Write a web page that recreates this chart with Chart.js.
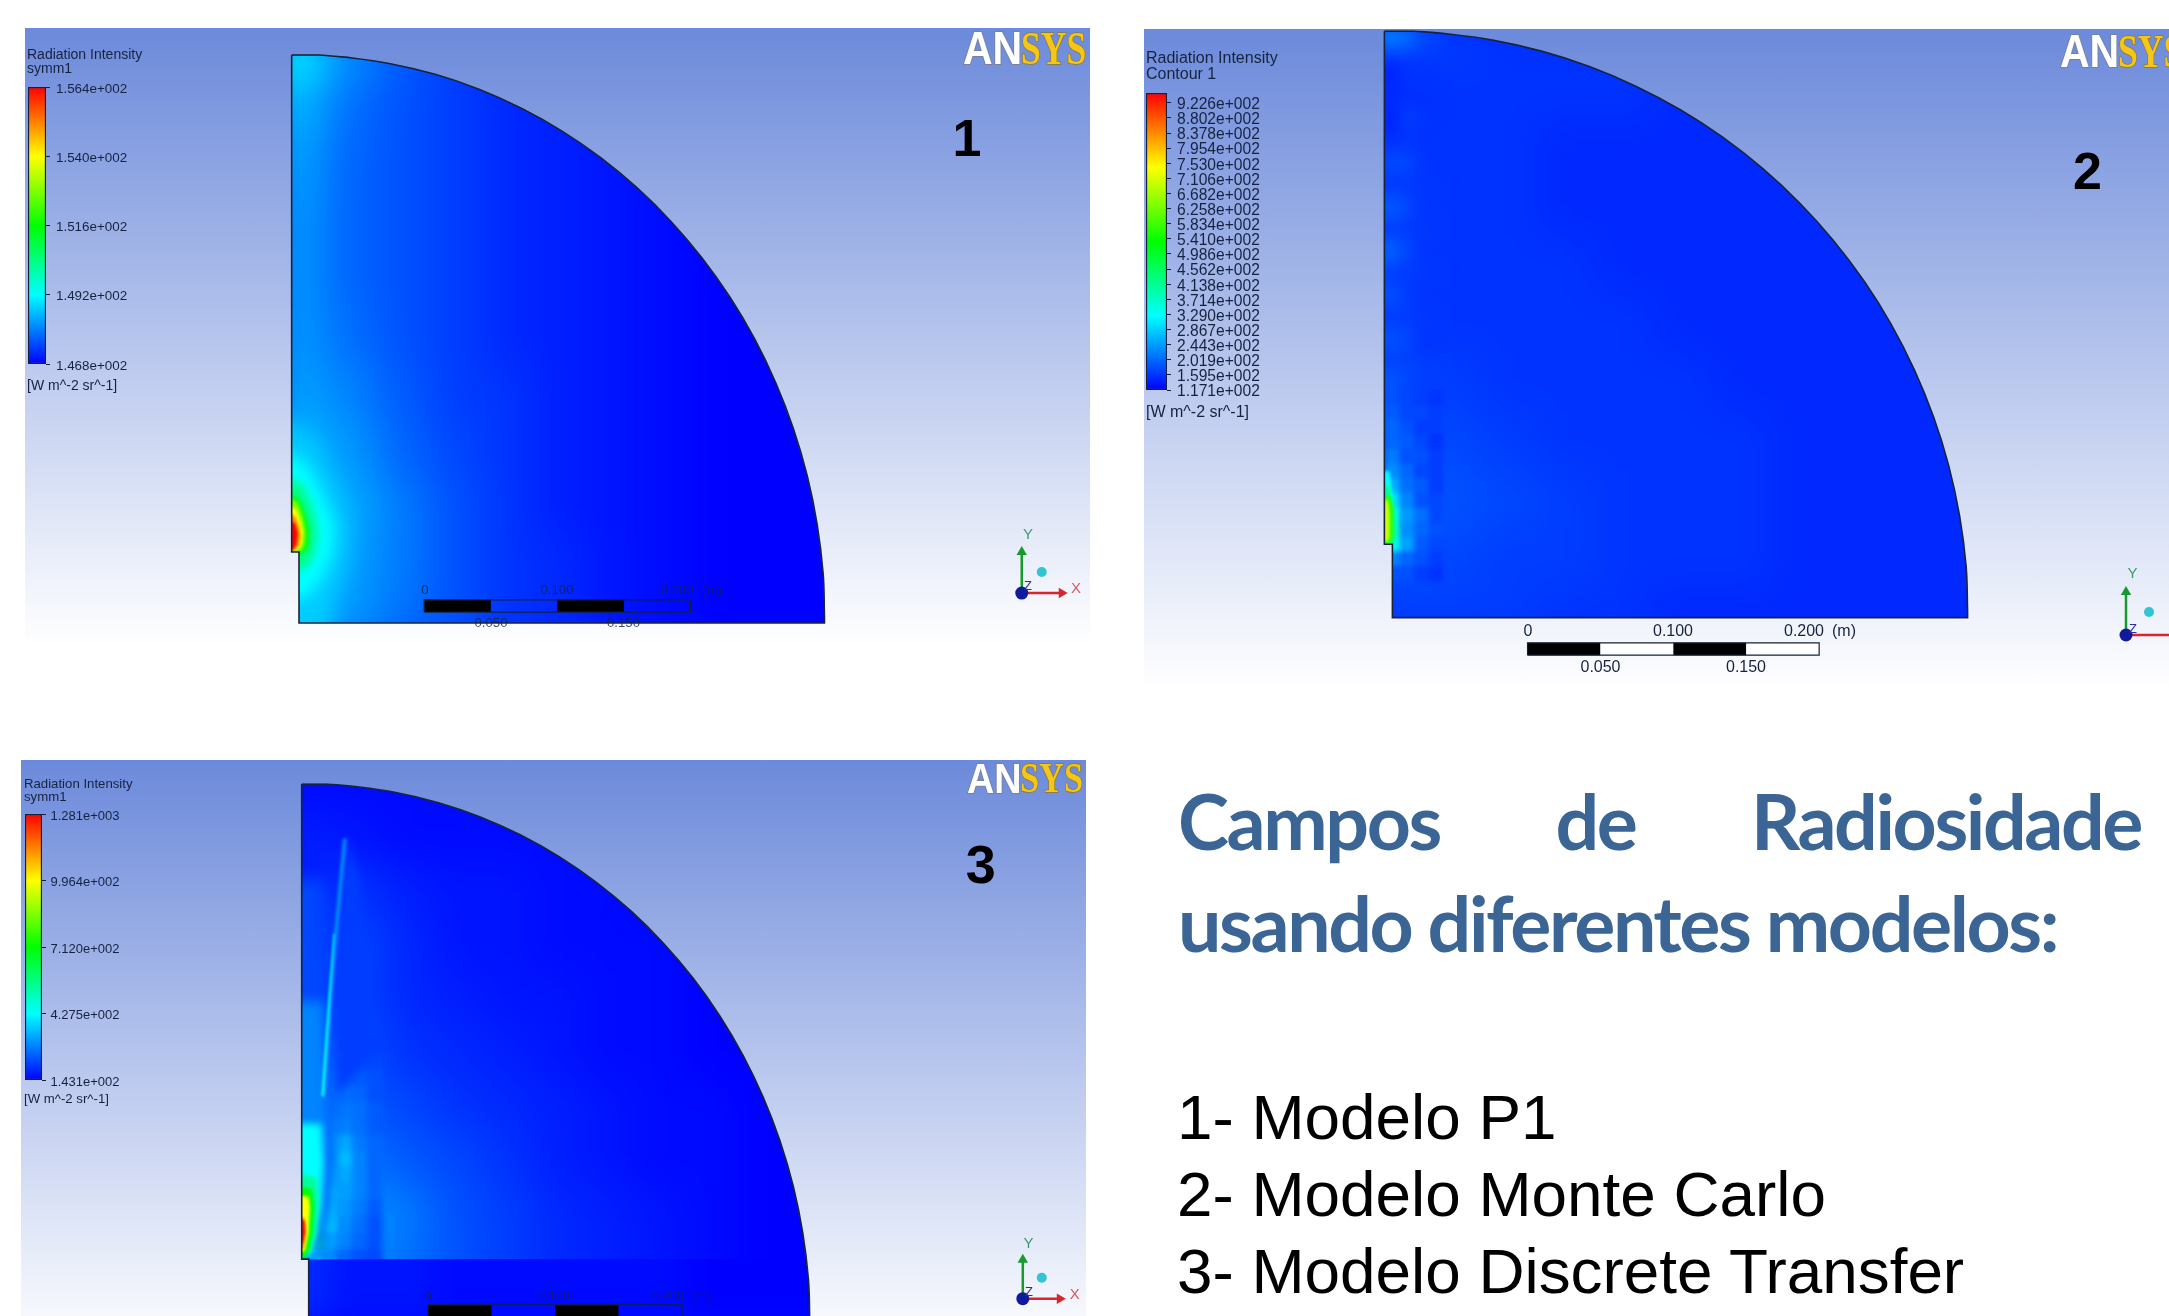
<!DOCTYPE html>
<html><head><meta charset="utf-8">
<style>
html,body{margin:0;padding:0;width:2169px;height:1316px;background:#fff;overflow:hidden}
canvas{position:absolute;display:block}
.t{position:absolute;white-space:nowrap;font-family:"Liberation Sans",Arial,sans-serif;color:#16233f;transform:translateY(-50%);line-height:1}
</style>
<script src="https://cdn.jsdelivr.net/npm/chart.js@4/dist/chart.umd.min.js"></script>
</head><body>
<script>
/* ---------- data ---------- */
const boundaryX=[-0.0055,0.015,0.0345,0.0686,0.1022,0.1351,0.1669,0.1975,0.2265,0.2539,0.2793,0.3026,0.3236,0.3421,0.358,0.3712,0.3816,0.389,0.3935,0.3945,0.3945,0,0,-0.0055,-0.0055];
const boundaryY=[0.4,0.4,0.3985,0.3939,0.3864,0.3759,0.3625,0.3464,0.3277,0.3064,0.2828,0.2571,0.2294,0.2,0.169,0.1368,0.1035,0.0695,0.0349,0.005,0,0,0.05,0.05,0.4];

// colour-bar ticks
const p1TickValues=[156.4,154.0,151.6,149.2,146.8];
const p1TickLabels=["1.564e+002","1.540e+002","1.516e+002","1.492e+002","1.468e+002"];
const p2TickValues=[922.6,880.2,837.8,795.4,753.0,710.6,668.2,625.8,583.4,541.0,498.6,456.2,413.8,371.4,329.0,286.7,244.3,201.9,159.5,117.1];
const p2TickLabels=["9.226e+002","8.802e+002","8.378e+002","7.954e+002","7.530e+002","7.106e+002","6.682e+002","6.258e+002","5.834e+002","5.410e+002","4.986e+002","4.562e+002","4.138e+002","3.714e+002","3.290e+002","2.867e+002","2.443e+002","2.019e+002","1.595e+002","1.171e+002"];
const p3TickValues=[1281,996.4,712.0,427.5,143.1];
const p3TickLabels=["1.281e+003","9.964e+002","7.120e+002","4.275e+002","1.431e+002"];
const p2BarMax=950;

// coarse field grid: percent of the colour bar
const gridX=[0,0.04,0.08,0.12,0.16,0.2,0.24,0.28,0.32,0.36,0.4];
const gridY=[0.4,0.36,0.32,0.28,0.24,0.2,0.16,0.12,0.08,0.04,0];
const p1Field=[
[24,14,9,6,4,2,1,0,0,0,0],
[18,11,8,6,4,3,2,1,0,0,0],
[16,10,8,6,4,3,2,1,0,0,0],
[15,10,8,6,4,3,2,1,0,0,0],
[15,10,8,6,4,3,2,1,0,0,0],
[15,11,8,6,4,3,2,1,0,0,0],
[16,13,9,6,5,3,2,1,0,0,0],
[19,15,10,7,5,3,2,1,0,0,0],
[21,17,12,8,5,3,2,1,0,0,0],
[20,16,12,8,5,4,2,1,0,0,0],
[18,15,11,8,5,4,2,1,0,0,0]];
const p2Field=[
[10,6,5,5,5,5,4,4,4,4,4],
[4,5,5,5,5,4,4,4,4,4,4],
[5,5,5,4,4,4,4,4,4,4,4],
[6,5,5,4,4,4,4,4,4,4,4],
[6,5,5,5,4,4,4,4,4,4,4],
[6,5,5,5,5,4,4,4,4,4,4],
[7,6,5,5,5,5,4,4,4,4,4],
[9,7,6,5,5,5,5,4,4,4,4],
[10,8,7,6,5,5,5,4,4,4,4],
[8,7,6,6,5,5,5,4,4,4,4],
[6,6,6,5,5,4,4,4,4,4,4]];
const p3Field=[
[1,1,1,1,1,0,0,0,0,0,0],
[3,2,1,1,1,1,1,0,0,0,0],
[3,5,3,2,2,1,1,0,0,0,0],
[4,7,4,2,2,1,1,1,0,0,0],
[5,7,4,3,2,2,1,1,0,0,0],
[7,8,5,4,3,2,1,1,0,0,0],
[11,9,7,5,4,3,2,1,1,0,0],
[18,12,9,7,5,3,2,1,1,0,0],
[20,15,12,8,6,4,3,2,1,0,0],
[20,14,11,8,6,4,3,2,1,0,0],
[20,14,11,8,6,4,3,2,1,0,0]];
const p3LowerField=[[4,2,2,1,1,1,1,1,0,0,0],[4,2,2,1,1,1,1,1,0,0,0]];
const p3LowerY=[0.05,0.01];

// near-wall cells
const p2UpperX=[0,0.012,0.024];
const p2UpperY=[0.4,0.37,0.34,0.31,0.28,0.25,0.22,0.19,0.16];
const p2Upper=[[14,12,7],[3,5,5],[3,6,5],[7,7,5],[9,7,5],[10,7,5],[8,6,5],[8,7,5],[9,7,6]];
const p2WallX=[0,0.01,0.02,0.03];
const p2WallY=[0.15,0.14,0.13,0.12,0.11,0.1,0.09,0.08,0.07,0.06,0.05,0.04,0.03];
const p2Wall=[[8,7,6,5],[9,7,7,6],[10,8,6,6],[10,9,7,5],[12,8,8,6],[14,10,7,6],[17,11,9,6],[22,13,8,7],[28,15,11,7],[30,14,10,8],[26,16,9,7],[13,10,8,6],[8,8,6,5]];
const p3WallX=[0.004,0.016,0.028,0.04,0.052];
const p3WallY=[0.208,0.196,0.184,0.172,0.16,0.148,0.136,0.124,0.112,0.1,0.088,0.076,0.064,0.052];
const p3Wall=[[12,9,8,7,6],[14,10,9,8,7],[17,12,10,9,8],[20,14,11,10,8],[22,14,12,11,9],[25,16,13,11,9],[26,18,17,12,10],[24,17,19,13,10],[24,20,17,13,10],[26,22,16,13,10],[25,20,15,12,9],[30,20,14,11,8],[40,16,13,10,8],[18,14,10,8,7]];

// hot-spot contours: level (percent of colour bar) with its outline in metres
const p1Levels=[20,25,37,50,62,75,87,100];
const p1Contours=[
[[-0.03,0.155],[0.012,0.128],[0.03,0.09],[0.038,0.065],[0.035,0.04],[0.026,0.015],[0.018,-0.03],[-0.03,-0.03]],
[[-0.03,0.13],[0.006,0.112],[0.018,0.09],[0.027,0.068],[0.025,0.048],[0.016,0.03],[0.006,0.018],[-0.03,0.012]],
[[-0.03,0.112],[0.003,0.097],[0.01,0.082],[0.014,0.065],[0.012,0.05],[0.006,0.04],[0,0.036],[-0.03,0.05]],
[[-0.02,0.098],[0,0.087],[0.005,0.075],[0.0075,0.065],[0.007,0.055],[0.004,0.05],[0.0005,0.048],[-0.02,0.05]],
[[-0.02,0.094],[-0.001,0.085],[0.003,0.075],[0.005,0.065],[0.0045,0.056],[0.002,0.051],[-0.02,0.05]],
[[-0.02,0.09],[-0.002,0.08],[0.001,0.072],[0.003,0.064],[0.002,0.056],[-0.001,0.051],[-0.02,0.05]],
[[-0.02,0.084],[-0.003,0.075],[0,0.068],[0.001,0.062],[0,0.055],[-0.003,0.051],[-0.02,0.05]],
[[-0.02,0.078],[-0.003,0.07],[-0.001,0.063],[-0.002,0.056],[-0.004,0.052],[-0.02,0.05]]];
const p1Blurs=[10,7,4,2,1.6,1.6,1.6,1.2];
const p2Levels=[25,35,55,70];
const p2Contours=[
[[-0.02,0.1],[-0.002,0.1],[0,0.085],[-0.001,0.055],[-0.002,0.05],[-0.02,0.05]],
[[-0.02,0.09],[-0.002,0.09],[0.001,0.08],[0.003,0.06],[0.002,0.05],[-0.02,0.05]],
[[-0.02,0.083],[-0.002,0.083],[0.0005,0.075],[0.0005,0.055],[-0.001,0.051],[-0.02,0.051]],
[[-0.02,0.08],[-0.003,0.08],[-0.002,0.07],[-0.002,0.056],[-0.003,0.052],[-0.02,0.052]]];
const p2Blurs=[1.6,1.4,1.2,1.2];
const p3Levels=[7,13,25,35,50,75,87,100];
const p3Contours=[
[[-0.02,0.33],[0.012,0.33],[0.016,0.25],[0.02,0.17],[0.018,0.1],[0.006,0.055],[-0.02,0.05]],
[[-0.02,0.24],[0.012,0.24],[0.014,0.19],[0.016,0.15],[0.012,0.09],[0.004,0.055],[-0.02,0.05]],
[[-0.02,0.15],[0.01,0.15],[0.012,0.12],[0.01,0.09],[0.006,0.07],[0.002,0.053],[-0.02,0.05]],
[[-0.02,0.115],[0.006,0.11],[0.008,0.09],[0.006,0.07],[0.002,0.055],[-0.02,0.05]],
[[-0.02,0.105],[0.002,0.102],[0.004,0.09],[0.003,0.07],[0,0.056],[-0.004,0.05],[-0.02,0.05]],
[[-0.02,0.098],[0,0.096],[0.001,0.088],[0,0.07],[-0.003,0.056],[-0.02,0.052]],
[[-0.02,0.088],[-0.003,0.08],[-0.002,0.07],[-0.004,0.058],[-0.02,0.056]],
[[-0.02,0.085],[-0.0035,0.078],[-0.003,0.07],[-0.0045,0.062],[-0.02,0.06]]];
const p3Blurs=[8,6,3.5,2,1.5,1.4,1.2,1.2];
const p3BeamLevels=[6,14,25];
const p3Beams=[
[[0.03,0.36],[0.04,0.33],[0.05,0.2],[0.022,0.17],[0.022,0.26]],
[[0.027,0.36],[0.03,0.36],[0.02,0.26],[0.013,0.17],[0.009,0.17],[0.017,0.26]],
[[0.0195,0.29],[0.0205,0.29],[0.012,0.17],[0.01,0.17]]];
const p3BeamBlurs=[5,1.6,1];

const slideTitle="Campos de Radiosidade";
const slideSubtitle="usando diferentes modelos:";
const modelNames=["1- Modelo P1","2- Modelo Monte Carlo","3- Modelo Discrete Transfer"];

/* ---------- helpers ---------- */
function bandColor(p){
  const f=Math.max(0,Math.min(1,p/100));let r,g,b;
  if(f<.25){r=0;g=f/.25*255;b=255;}
  else if(f<.5){r=0;g=255;b=255*(1-(f-.25)/.25);}
  else if(f<.75){r=(f-.5)/.25*255;g=255;b=0;}
  else{r=255;g=255*(1-(f-.75)/.25);b=0;}
  return `rgb(${r|0},${g|0},${b|0})`;
}
function cells(xs,ys,table,side,blur,extra){
  const pts=[];
  ys.forEach((y,j)=>xs.forEach((x,i)=>pts.push({x,y,v:table[j][i]})));
  return Object.assign({data:pts,showLine:false,pointStyle:'rect',pointRadius:side/Math.SQRT2,
    pointHoverRadius:side/Math.SQRT2,pointBorderWidth:0,pointBackgroundColor:pts.map(p=>bandColor(p.v)),layerBlur:blur},extra||{});
}
function polygon(points,color,opts){
  return Object.assign({data:points.map(p=>({x:p[0],y:p[1]})),showLine:false,pointRadius:0,polyFill:color},opts||{});
}
function contours(levels,list,blurs){
  return levels.map((l,i)=>polygon(list[i],bandColor(l),{fieldBlur:blurs[i],fieldClip:true}));
}
const boundaryPts=boundaryX.map((x,i)=>[x,boundaryY[i]]);
const arcEnd=19;
function outline(){
  const toXY=p=>({x:p[0],y:p[1]});
  return [
    {data:boundaryPts.slice(1,arcEnd+1).map(toXY),showLine:true,tension:0.4,pointRadius:0,borderColor:'#18243a',borderWidth:1.6,fill:false},
    {data:[boundaryPts[0],boundaryPts[1]].map(toXY),showLine:true,pointRadius:0,borderColor:'#18243a',borderWidth:1.6,fill:false},
    {data:boundaryPts.slice(arcEnd).map(toXY),showLine:true,pointRadius:0,borderColor:'#18243a',borderWidth:1.6,fill:false}
  ];
}
function scaleBar(x0,yc,h,light){
  const out=[];
  [0,1,2,3].forEach(i=>{
    const a=x0+i*0.05,b=a+0.05;
    const col=i%2===0?'#000':(light||null);
    out.push(polygon([[a,yc-h],[b,yc-h],[b,yc+h],[a,yc+h]],col));
  });
  out.push({data:[[x0,yc-h],[x0+.2,yc-h],[x0+.2,yc+h],[x0,yc+h],[x0,yc-h]].map(p=>({x:p[0],y:p[1]})),showLine:true,pointRadius:0,borderColor:'#10203c',borderWidth:1.2,fill:false});
  return out;
}
function triad(o,sx,sy){
  const ox=o.x,oy=o.y;
  return [
   {data:[{x:ox,y:oy},{x:ox+o.xLen/sx,y:oy}],showLine:true,borderColor:'#d8262c',borderWidth:2.5,pointStyle:'triangle',pointRotation:[0,90],pointRadius:[0,6],pointBackgroundColor:'#d8262c',pointBorderWidth:0},
   {data:[{x:ox,y:oy},{x:ox,y:oy+o.yLen/sy}],showLine:true,borderColor:'#169a2c',borderWidth:2.5,pointStyle:'triangle',pointRadius:[0,6],pointBackgroundColor:'#169a2c',pointBorderWidth:0},
   {data:[{x:ox,y:oy}],showLine:false,pointRadius:6.5,pointBackgroundColor:'#101a9c',pointBorderWidth:0},
   {data:[{x:ox+o.dotX/sx,y:oy+o.dotY/sy}],showLine:false,pointRadius:5,pointBackgroundColor:'#30c4d4',pointBorderWidth:0}
  ];
}
function clipToDomain(chart,ds){
  const ctx=chart.ctx,xs=chart.scales.x,ys=chart.scales.y;
  ctx.beginPath();
  boundaryPts.forEach((p,i)=>{const X=xs.getPixelForValue(p[0]),Y=ys.getPixelForValue(p[1]);i?ctx.lineTo(X,Y):ctx.moveTo(X,Y);});
  ctx.closePath();ctx.clip();
  if(ds.clipAbove!==undefined||ds.clipBelow!==undefined){
    const a=ds.clipAbove!==undefined?ys.getPixelForValue(ds.clipAbove):0;
    const b=ds.clipBelow!==undefined?ys.getPixelForValue(ds.clipBelow):chart.height;
    ctx.beginPath();ctx.rect(0,a,chart.width,b-a);ctx.clip();
  }
}
const fieldPlugin={
  id:'field',
  beforeDatasetDraw(chart,args){
    const ds=chart.data.datasets[args.index];
    if(ds.layerBlur){
      // the cells of one layer are painted together, then softened together
      const off=document.createElement('canvas');off.width=chart.width;off.height=chart.height;
      args.meta._layer=off;
      args.meta.controller._ctx=off.getContext('2d');
      return;
    }
    if(ds.fieldBlur===undefined&&!ds.polyFill)return;
    const ctx=chart.ctx;
    ctx.save();
    if(ds.fieldClip)clipToDomain(chart,ds);
    if(ds.fieldBlur)ctx.filter=`blur(${ds.fieldBlur}px)`;
  },
  afterDatasetDraw(chart,args){
    const ds=chart.data.datasets[args.index];
    const ctx=chart.ctx;
    if(ds.layerBlur){
      args.meta.controller._ctx=ctx;
      ctx.save();clipToDomain(chart,ds);
      ctx.filter=`blur(${ds.layerBlur}px)`;
      ctx.drawImage(args.meta._layer,0,0);
      ctx.restore();
      return;
    }
    if(ds.fieldBlur===undefined&&!ds.polyFill)return;
    if(ds.polyFill){
      ctx.beginPath();
      args.meta.data.forEach((p,i)=>{i?ctx.lineTo(p.x,p.y):ctx.moveTo(p.x,p.y);});
      ctx.closePath();ctx.fillStyle=ds.polyFill;ctx.fill();
    }
    ctx.restore();
  }
};
function panelChart(P,layers){
  const c=document.createElement('canvas');
  const W=P.right-P.left,H=P.bottom-P.top;
  c.width=W;c.height=H;
  c.style.cssText=`left:${P.left}px;top:${P.top}px;width:${W}px;height:${H}px;background:linear-gradient(to bottom,#6c8adb 0,#fff ${P.fade}px)`;
  document.body.appendChild(c);
  const ds=layers.filter(d=>d.polyFill!==null).map((d,i)=>Object.assign({order:-i},d));
  new Chart(c,{type:'scatter',data:{datasets:ds},plugins:[fieldPlugin],options:{
    responsive:false,animation:false,events:[],layout:{padding:0,autoPadding:false},
    plugins:{legend:{display:false},tooltip:{enabled:false}},
    scales:{
      x:{type:'linear',display:false,min:(P.left-P.x0)/P.sx,max:(P.right-P.x0)/P.sx},
      y:{type:'linear',display:false,min:(P.y0-P.bottom)/P.sy,max:(P.y0-P.top)/P.sy}
    }}});
}
function colourBar(B,values,labels,max){
  const c=document.createElement('canvas');
  const w=B.w+2+B.axisW,h=B.h+40;
  c.width=w;c.height=h;
  c.style.cssText=`left:${B.x-2}px;top:${B.y-20}px;width:${w}px;height:${h}px`;
  document.body.appendChild(c);
  new Chart(c,{type:'bar',data:{labels:['v'],datasets:[{data:[[values[values.length-1],max]],
    barPercentage:1,categoryPercentage:1,borderColor:'#15203a',borderWidth:1.5,borderSkipped:false,
    backgroundColor(ctx){
      const a=ctx.chart.chartArea;if(!a)return '#00f';
      const g=ctx.chart.ctx.createLinearGradient(0,a.bottom,0,a.top);
      [0,.25,.5,.75,1].forEach(s=>g.addColorStop(s,bandColor(s*100)));return g;
    }}]},
    options:{responsive:false,animation:false,events:[],layout:{padding:{top:20,bottom:20,left:2,right:0}},
    plugins:{legend:{display:false},tooltip:{enabled:false}},
    scales:{
      x:{display:false,offset:true},
      y:{type:'linear',position:'right',min:values[values.length-1],max:max,
        afterBuildTicks(s){s.ticks=values.map(v=>({value:v}));},
        afterFit(s){s.width=B.axisW;},
        grid:{drawOnChartArea:false,drawTicks:true,tickLength:4,color:'#15203a'},
        border:{display:false},
        ticks:{autoSkip:false,padding:B.pad,labelOffset:B.off,color:'#16233f',font:{family:'"Liberation Sans"',size:B.font},
          callback(v){return labels[values.indexOf(v)];}}
      }}}});
}
function text(s,x,y,size,extra){
  const d=document.createElement('div');d.className='t';d.textContent=s;
  d.style.left=x+'px';d.style.top=y+'px';d.style.fontSize=size+'px';
  if(extra)Object.assign(d.style,extra);
  document.body.appendChild(d);return d;
}
function ctext(s,x,y,size,extra){return text(s,x,y,size,Object.assign({transform:'translate(-50%,-50%)'},extra||{}));}
function logo(x,y,h,sAN,sSYS){
  const d=document.createElement('div');
  d.style.cssText=`position:absolute;left:${x}px;top:${y}px;white-space:nowrap;line-height:1;height:${h}px`;
  const fs=h/0.68;
  const a=document.createElement('span');a.textContent='AN';
  a.style.cssText=`position:absolute;left:0;top:${-h*0.23}px;font:bold ${fs}px "Liberation Sans";color:#fff;-webkit-text-stroke:2px #77839c;paint-order:stroke fill;transform-origin:0 0;transform:scaleX(${sAN})`;
  const b=document.createElement('span');b.textContent='SYS';
  const left=fs*1.444*sAN;
  b.style.cssText=`position:absolute;left:${left-1}px;top:${-h*0.27}px;font:bold ${fs}px "Liberation Serif";color:#f5c518;-webkit-text-stroke:1.6px #8a7a30;paint-order:stroke fill;transform-origin:0 0;transform:scaleX(${sSYS})`;
  d.appendChild(a);d.appendChild(b);document.body.appendChild(d);
}

/* ---------- panel 1 ---------- */
const P1={left:25,right:1090,top:28,bottom:650,fade:618,x0:299,sx:1332,y0:623,sy:1420};
panelChart(P1,[
 polygon(boundaryPts,bandColor(4)),
 cells(gridX,gridY,p1Field,60,20),
 ...contours(p1Levels,p1Contours,p1Blurs),
 ...outline(),
 ...scaleBar(0.094,0.012,0.0043,null),
 ...triad({x:0.5426,y:0.0211,xLen:40,yLen:41,dotX:20,dotY:21},P1.sx,P1.sy)
]);
colourBar({x:27.5,y:87,w:18,h:277,axisW:110,pad:6,off:2,font:13.4},p1TickValues,p1TickLabels,p1TickValues[0]);
text('Radiation Intensity',27,54,14);text('symm1',27,68,14);text('[W m^-2 sr^-1]',27,385,14);
[['0',425],['0.100',557],['0.200',677],['(m)',712]].forEach(l=>ctext(l[0],l[1],590,13.2,{opacity:.8}));
[['0.050',491],['0.150',623.5]].forEach(l=>ctext(l[0],l[1],623,13.2,{opacity:.8}));
ctext('1',967,138,52,{fontWeight:'bold',color:'#000'});
logo(963,30,31,.9,.78);
ctext('Y',1028,533,15,{color:'#3f9a6a'});ctext('X',1076,587,15,{color:'#d8595c'});ctext('Z',1028,585,13,{color:'#2a2f9c'});

/* ---------- panel 2 ---------- */
const P2={left:1144,right:2169,top:29,bottom:690,fade:660,x0:1392.4,sx:1458,y0:617.6,sy:1466};
panelChart(P2,[
 polygon(boundaryPts,bandColor(4)),
 cells(gridX,gridY,p2Field,60,20),
 cells(p2UpperX,p2UpperY,p2Upper,26,8),
 cells(p2WallX,p2WallY,p2Wall,15,2.5),
 ...contours(p2Levels,p2Contours,p2Blurs),
 ...outline(),
 ...scaleBar(0.0927,-0.0214,0.0042,'#fff'),
 ...triad({x:(2126-1392.4)/1458,y:(617.6-635)/1466,xLen:46,yLen:43,dotX:23,dotY:23},P2.sx,P2.sy)
]);
colourBar({x:1146,y:93.3,w:21,h:297,axisW:110,pad:6,off:2,font:15.6},p2TickValues,p2TickLabels,p2BarMax);
text('Radiation Intensity',1146,58,16);text('Contour 1',1146,74,16);text('[W m^-2 sr^-1]',1146,412,16);
[['0',1528],['0.100',1673],['0.200',1804],['(m)',1844]].forEach(l=>ctext(l[0],l[1],631,16));
[['0.050',1600.5],['0.150',1746]].forEach(l=>ctext(l[0],l[1],667,16));
ctext('2',2087.5,171,52,{fontWeight:'bold',color:'#000'});
logo(2060,33,31,.9,.78);
ctext('Y',2132.6,571.6,15,{color:'#3f9a6a'});ctext('Z',2133,628,13,{color:'#2a2f9c'});

/* ---------- panel 3 ---------- */
const P3={left:21,right:1086,top:760,bottom:1316,fade:590,x0:308.7,sx:1270,y0:1327,sy:1357};
panelChart(P3,[
 polygon(boundaryPts,bandColor(1)),
 cells(gridX,gridY,p3Field,60,20,{clipBelow:0.05}),
 cells(gridX,p3LowerY,p3LowerField,60,14,{clipAbove:0.05}),
 cells(p3WallX,p3WallY,p3Wall,16,3,{clipBelow:0.05}),
 ...contours(p3Levels,p3Contours,p3Blurs),
 ...contours(p3BeamLevels,p3Beams,p3BeamBlurs),
 ...outline(),
 ...scaleBar(0.0939,0.0118,0.0045,null),
 ...triad({x:(1022.8-308.7)/1270,y:(1327-1298.7)/1357,xLen:37,yLen:39,dotX:19,dotY:21},P3.sx,P3.sy)
]);
colourBar({x:24.5,y:814,w:17.5,h:266,axisW:110,pad:4.5,off:2,font:13},p3TickValues,p3TickLabels,p3TickValues[0]);
text('Radiation Intensity',24,784,13.2);text('symm1',24,797,13.2);text('[W m^-2 sr^-1]',24,1098.5,13.2);
[['0',428],['0.100',554],['0.200',668],['(m)',701.5]].forEach(l=>ctext(l[0],l[1],1295,13,{opacity:.8}));
ctext('3',980.7,863.7,54,{fontWeight:'bold',color:'#000'});
logo(967,761.5,28.5,.9,.82);
ctext('Y',1028.4,1241.7,15,{color:'#3f9a6a'});ctext('X',1074.7,1292.6,15,{color:'#d8595c'});ctext('Z',1029,1291,13,{color:'#2a2f9c'});

/* ---------- slide text ---------- */
const h1=document.createElement('div');
h1.textContent=slideTitle;
h1.style.cssText='position:absolute;left:1178px;top:769px;width:963px;text-align:justify;text-align-last:justify;font:bold 77px Lato,sans-serif;letter-spacing:-2.4px;color:#3b6595;line-height:102px';
document.body.appendChild(h1);
const h2=document.createElement('div');
h2.textContent=slideSubtitle;
h2.style.cssText='position:absolute;left:1178px;top:871px;white-space:nowrap;font:bold 77px Lato,sans-serif;letter-spacing:-2.4px;color:#3b6595;line-height:102px';
document.body.appendChild(h2);
modelNames.forEach((m,i)=>{
  const d=document.createElement('div');d.textContent=m;
  d.style.cssText=`position:absolute;left:1177px;top:${1086+i*77}px;white-space:nowrap;font:63.8px "Liberation Sans",sans-serif;color:#000;line-height:1`;
  document.body.appendChild(d);
});
</script>
</body></html>
